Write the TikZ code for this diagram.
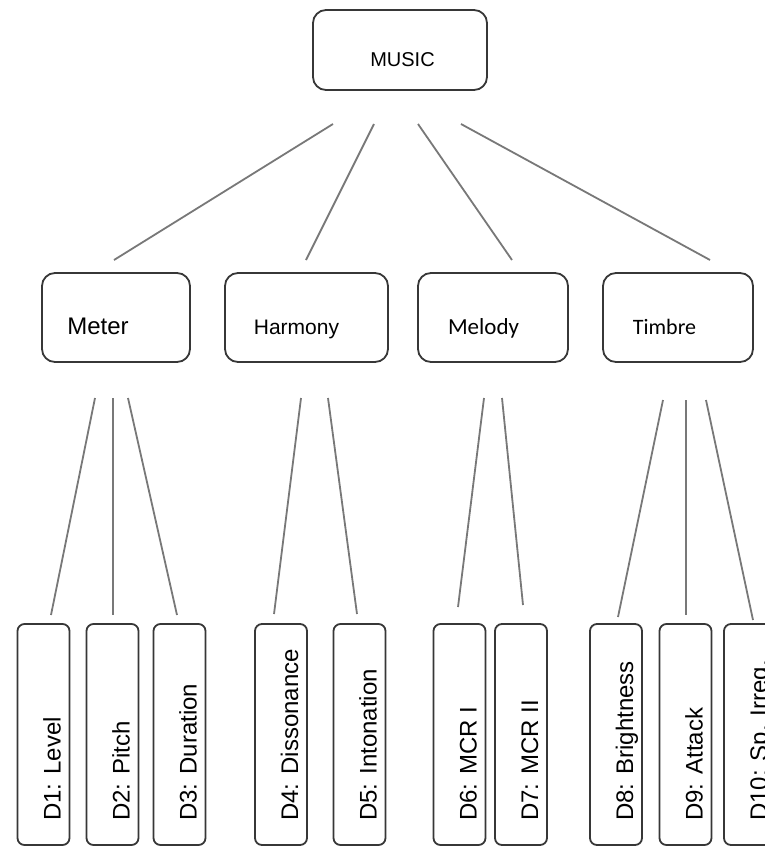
\documentclass[tikz,border=0pt]{standalone}
\usepackage{fontspec}
\setmainfont{Liberation Sans}
\newfontfamily\calfont{Carlito}
\usetikzlibrary{positioning}
\definecolor{boxline}{RGB}{55,55,55}
\definecolor{linkgray}{RGB}{120,120,120}

\begin{document}
\begin{tikzpicture}[x=1pt,y=-1pt]
	\tikzstyle{box} = [draw=boxline, line width=1.8pt, inner sep=0pt, outer sep=0pt]
	\tikzstyle{topbox} = [box, rounded corners=13pt, minimum width=174pt, minimum height=80pt]
	\tikzstyle{catbox} = [box, rounded corners=13pt, minimum height=89pt]
	\tikzstyle{dimbox} = [box, rounded corners=7pt, minimum width=52pt, minimum height=221pt]
	\tikzstyle{cattext} = [anchor=base, inner sep=0pt, yshift=28pt]
	\tikzstyle{dimtext} = [anchor=base west, inner sep=0pt, xshift=17pt, yshift=24pt, rotate=90, font=\fontsize{24}{28}\selectfont]
	\tikzstyle{link} = [draw=linkgray, line width=1.8pt]

	\useasboundingbox (0,0) rectangle (764,846);

	% root
	\node [topbox, label={[anchor=base, inner sep=0pt, xshift=2.5pt, yshift=23.3pt, font=\fontsize{20}{24}\selectfont]south:MUSIC}] (music) at (400,50) {};

	% categories
	\node [catbox, minimum width=148pt, label={[cattext, xshift=-18pt, font=\fontsize{24}{28}\selectfont]south:Meter}] (meter) at (116,317.5) {};
	\node [catbox, minimum width=163pt, right = 35pt of meter, label={[cattext, xshift=-10pt, font=\fontsize{21}{25}\selectfont]south:Harmony}] (harmony) {};
	\node [catbox, minimum width=150pt, right = 30pt of harmony, label={[cattext, xshift=-9.5pt, font=\calfont\fontsize{23}{27}\selectfont]south:Melody}] (melody) {};
	\node [catbox, minimum width=150pt, right = 35pt of melody, label={[cattext, xshift=-13.5pt, font=\calfont\fontsize{22}{26}\selectfont]south:Timbre}] (timbre) {};

	% descriptors
	\node [dimbox, label={[dimtext]south:{D1: Level}}] (d1) at (43.5,734.5) {};
	\node [dimbox, right = 17pt of d1, label={[dimtext]south:{D2: Pitch}}] (d2) {};
	\node [dimbox, right = 15pt of d2, label={[dimtext]south:{D3: Duration}}] (d3) {};
	\node [dimbox, right = 49.5pt of d3, label={[dimtext]south:{D4: Dissonance}}] (d4) {};
	\node [dimbox, right = 26.5pt of d4, label={[dimtext]south:{D5: Intonation}}] (d5) {};
	\node [dimbox, right = 48pt of d5, label={[dimtext]south:{D6: MCR I}}] (d6) {};
	\node [dimbox, right = 9.5pt of d6, label={[dimtext]south:{D7: MCR II}}] (d7) {};
	\node [dimbox, right = 43pt of d7, label={[dimtext]south:{D8: Brightness}}] (d8) {};
	\node [dimbox, right = 17.5pt of d8, label={[dimtext]south:{D9: Attack}}] (d9) {};
	\node [dimbox, right = 12.5pt of d9, label={[dimtext]south:{D10: Sp. Irreg.}}] (d10) {};

	% free ends of the links
	\coordinate (up1) at ([shift={(-67,34)}]music.south);
	\coordinate (up2) at ([shift={(-26,34)}]music.south);
	\coordinate (up3) at ([shift={(18,34)}]music.south);
	\coordinate (up4) at ([shift={(61,34)}]music.south);
	\coordinate (dn1) at ([shift={(-2,-13)}]meter.north);
	\coordinate (dn2) at ([shift={(-0.5,-13)}]harmony.north);
	\coordinate (dn3) at ([shift={(19,-13)}]melody.north);
	\coordinate (dn4) at ([shift={(32,-13)}]timbre.north);

	\coordinate (s1) at ([shift={(-21,36)}]meter.south);
	\coordinate (s2) at ([shift={(-3,36)}]meter.south);
	\coordinate (s3) at ([shift={(12,36)}]meter.south);
	\coordinate (s4) at ([shift={(-5.5,36)}]harmony.south);
	\coordinate (s5) at ([shift={(21.5,36)}]harmony.south);
	\coordinate (s6) at ([shift={(-9,36)}]melody.south);
	\coordinate (s7) at ([shift={(9,36)}]melody.south);
	\coordinate (s8) at ([shift={(-15,38)}]timbre.south);
	\coordinate (s9) at ([shift={(8,38)}]timbre.south);
	\coordinate (s10) at ([shift={(28,38)}]timbre.south);

	\coordinate (e1) at ([shift={(7.5,-9)}]d1.north);
	\coordinate (e2) at ([shift={(0.5,-9)}]d2.north);
	\coordinate (e3) at ([shift={(-2.5,-9)}]d3.north);
	\coordinate (e4) at ([shift={(-7,-10)}]d4.north);
	\coordinate (e5) at ([shift={(-2.5,-10)}]d5.north);
	\coordinate (e6) at ([shift={(-1.5,-17)}]d6.north);
	\coordinate (e7) at ([shift={(2,-19)}]d7.north);
	\coordinate (e8) at ([shift={(2,-7)}]d8.north);
	\coordinate (e9) at ([shift={(0.5,-9)}]d9.north);
	\coordinate (e10) at ([shift={(3,-4)}]d10.north);

	\draw [link] (up1) -- (dn1);
	\draw [link] (up2) -- (dn2);
	\draw [link] (up3) -- (dn3);
	\draw [link] (up4) -- (dn4);

	\draw [link] (s1) -- (e1);
	\draw [link] (s2) -- (e2);
	\draw [link] (s3) -- (e3);
	\draw [link] (s4) -- (e4);
	\draw [link] (s5) -- (e5);
	\draw [link] (s6) -- (e6);
	\draw [link] (s7) -- (e7);
	\draw [link] (s8) -- (e8);
	\draw [link] (s9) -- (e9);
	\draw [link] (s10) -- (e10);

\end{tikzpicture}
\end{document}
